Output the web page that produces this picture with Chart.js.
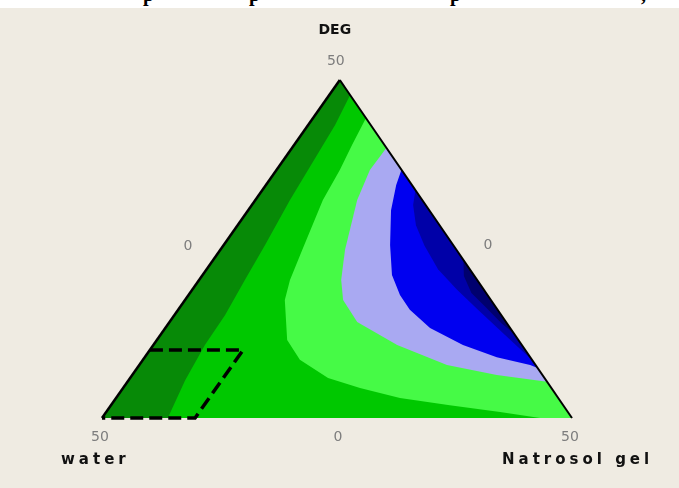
<!DOCTYPE html>
<html>
<head>
<meta charset="utf-8">
<script src="https://cdn.jsdelivr.net/npm/chart.js@4.4.1/dist/chart.umd.min.js"></script>
<style>
html, body { margin: 0; padding: 0; background: #efebe2; }
#wrap { position: relative; width: 679px; height: 488px; overflow: hidden; }
#cap { position: absolute; left: 0; top: 0; width: 679px; height: 8px; background: #fff; overflow: hidden; }
#cap span { position: absolute; top: -17px; font: bold 20px "Liberation Serif"; color: #000; }
canvas { position: absolute; left: 0; top: 0; }
</style>
</head>
<body>
<div id="wrap">
<canvas id="c" width="679" height="488"></canvas>
<div id="cap"><span style="left:143px">p</span><span style="left:249px">p</span><span style="left:450px">p</span><span style="left:641px">,</span></div>
</div>
<script>
// ternary frame: water (0,0), Natrosol gel (100,0), DEG (50.6,100)
var triangle = [[0, 0], [100, 0], [50.6, 100]];

// contour bands, outer edge follows the triangle
var darkGreenBand = [[50.6, 100], [52.8, 95.6], [49.6, 86.7], [46.4, 79.3], [40.0, 64.5], [34.7, 51.2],
	[30.4, 40.8], [26.2, 30.5], [21.9, 21.6], [17.7, 11.2], [14.0, 0], [0, 0]];
var lightGreenBand = [[56.2, 88.8], [53.2, 80.8], [50.6, 73.4], [47.0, 64.5], [42.6, 49.7], [40.0, 40.8],
	[38.9, 34.9], [39.4, 23.1], [42.1, 17.2], [48.1, 11.8], [54.9, 8.9], [63.4, 5.9], [74.0, 3.8],
	[84.7, 1.8], [93.2, 0], [100, 0]];
var lavenderBand = [[60.5, 79.9], [57.0, 73.4], [54.3, 64.5], [51.7, 49.7], [50.9, 40.8], [51.3, 34.9],
	[54.3, 28.4], [62.8, 21.6], [73.4, 15.7], [84.0, 12.7], [94.7, 10.7]];
var blueBand = [[63.7, 73.4], [62.6, 68.9], [61.5, 61.5], [61.3, 51.2], [61.7, 42.3], [63.4, 36.4],
	[65.5, 32.0], [69.8, 26.6], [76.8, 21.6], [84.0, 18.0], [91.1, 15.7], [92.7, 14.8]];
var navyBand = [[66.7, 67.5], [66.2, 63.0], [66.8, 57.0], [68.6, 51.0], [71.5, 44.0], [75.5, 38.0],
	[80.0, 32.0], [85.7, 24.6], [90.4, 18.6], [91.5, 17.2]];
var deepNavyBand = [[76.9, 46.7], [77.0, 42.0], [78.6, 37.0], [81.5, 33.0], [85.0, 28.0], [87.9, 24.6]];

// dashed constraint region
var constraintLine = [[10.2, 20.1], [30.0, 20.1], [19.8, 0], [0, 0]];

var componentNames = ['DEG', 'water', 'Natrosol gel'];
var vertexTicks = ['50', '50', '50'];
var sideTicks = ['0', '0', '0'];

function pts(arr) {
	return arr.map(function(p) { return {x: p[0], y: p[1]}; });
}

function band(arr, color, order) {
	return {data: pts(arr), showLine: true, fill: 'shape', backgroundColor: color,
		borderWidth: 0, pointRadius: 0, order: order};
}

var labelPlugin = {
	id: 'ternaryLabels',
	afterDraw: function(chart) {
		var ctx = chart.ctx;
		var xs = chart.scales.x, ys = chart.scales.y;
		var top = [xs.getPixelForValue(triangle[2][0]), ys.getPixelForValue(triangle[2][1])];
		var left = [xs.getPixelForValue(triangle[0][0]), ys.getPixelForValue(triangle[0][1])];
		var right = [xs.getPixelForValue(triangle[1][0]), ys.getPixelForValue(triangle[1][1])];
		ctx.save();
		ctx.textAlign = 'center';
		ctx.textBaseline = 'middle';

		ctx.fillStyle = '#7d7d7d';
		ctx.font = '14px "DejaVu Sans"';
		ctx.fillText(vertexTicks[0], top[0] - 4, top[1] - 19);
		ctx.fillText(vertexTicks[1], left[0] - 2, left[1] + 19);
		ctx.fillText(vertexTicks[2], right[0] - 2, right[1] + 19);
		ctx.fillText(sideTicks[0], (top[0] + left[0]) / 2 - 33, (top[1] + left[1]) / 2 - 3);
		ctx.fillText(sideTicks[1], (top[0] + right[0]) / 2 + 32, (top[1] + right[1]) / 2 - 4);
		ctx.fillText(sideTicks[2], (left[0] + right[0]) / 2 + 1, left[1] + 19);

		ctx.fillStyle = '#111';
		ctx.font = 'bold 14px "DejaVu Sans"';
		ctx.fillText(componentNames[0], top[0] - 5, top[1] - 50);
		ctx.textAlign = 'left';
		ctx.font = 'bold 15px "DejaVu Sans"';
		ctx.letterSpacing = '4px';
		ctx.fillText(componentNames[1], left[0] - 41, left[1] + 42);
		ctx.fillText(componentNames[2], right[0] - 70, right[1] + 42);
		ctx.restore();
	}
};

var chart = new Chart(document.getElementById('c'), {
	type: 'scatter',
	data: {
		datasets: [
			{data: pts([triangle[0], triangle[2]]), showLine: true, borderColor: '#000', borderWidth: 2.5,
				pointRadius: 0, fill: false, order: 0},
			{data: pts([triangle[2], triangle[1]]), showLine: true, borderColor: '#000', borderWidth: 2,
				pointRadius: 0, fill: false, order: 0},
			{data: pts(constraintLine), showLine: true, borderColor: '#000', borderWidth: 3.5,
				borderDash: [13, 6], pointRadius: 0, fill: false, order: 1},
			band(deepNavyBand, '#00006e', 2),
			band(navyBand, '#0000a8', 3),
			band(blueBand, '#0000f0', 4),
			band(lavenderBand, '#a9a9f2', 5),
			band(lightGreenBand, '#46fa46', 6),
			band(darkGreenBand, '#078a07', 7),
			band(triangle, '#00c800', 8)
		]
	},
	options: {
		responsive: false,
		animation: false,
		events: [],
		layout: {padding: 0},
		plugins: {legend: {display: false}, tooltip: {enabled: false}},
		elements: {line: {tension: 0}},
		scales: {
			x: {type: 'linear', display: false, min: -21.70, max: 122.77},
			y: {type: 'linear', display: false, min: -20.71, max: 123.67}
		}
	},
	plugins: [labelPlugin]
});
</script>
</body>
</html>
